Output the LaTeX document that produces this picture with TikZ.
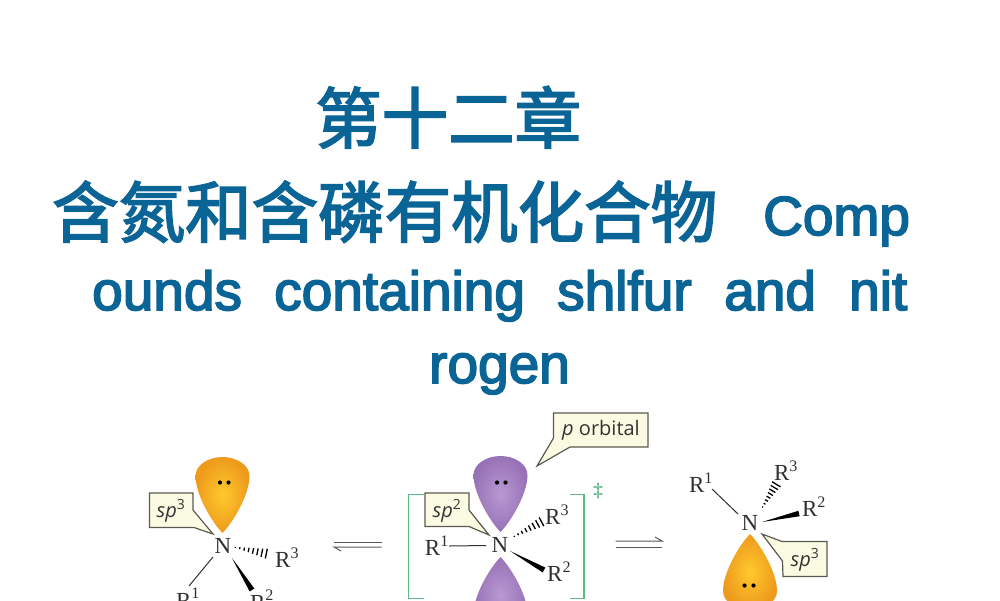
\documentclass[tikz,border=0pt]{standalone}
\usepackage{fontspec}
\usetikzlibrary{calc}
\setmainfont{Liberation Serif}
\newfontfamily\cjkfont[FakeBold=2.6]{Noto Sans CJK SC}
\newfontfamily\latinfont[FakeBold=3]{Liberation Sans}
\newfontfamily\notefont{Open Sans}
\definecolor{titleblue}{HTML}{0A6496}
\definecolor{bondgrey}{HTML}{303030}
\definecolor{notefill}{HTML}{FBFBE4}
\definecolor{noteline}{HTML}{5A5A50}
\definecolor{bracketgreen}{HTML}{5DB98A}
\definecolor{orangein}{HTML}{FFC92E}
\definecolor{orangeout}{HTML}{EE9A1C}
\definecolor{purplein}{HTML}{B899D2}
\definecolor{purpleout}{HTML}{9872B6}
\tikzset{
  x=1pt,y=-1pt,
  titlecjk/.style={inner sep=0,anchor=base west,text=titleblue,font=\cjkfont\fontsize{66.5}{67}\selectfont},
  titlelat/.style={inner sep=0,anchor=base west,text=titleblue,font=\latinfont\fontsize{55}{55}\selectfont},
  atomlabel/.style={inner sep=0,text=bondgrey,font=\fontsize{23}{23}\selectfont},
  notetext/.style={inner sep=0,text=black!80,font=\notefont\fontsize{20}{20}\selectfont},
  notebox/.style={draw=noteline,fill=notefill,line width=1.2pt,line join=miter},
  bondline/.style={draw=bondgrey,line width=1pt},
  greenline/.style={draw=bracketgreen,line width=1.4pt},
  eqline/.style={draw=black!65,line width=1pt},
  orangelobe/.style={inner color=orangein,outer color=orangeout},
  purplelobe/.style={inner color=purplein,outer color=purpleout},
}
\newcommand{\lobeshape}{(0,0) .. controls (-10,-10) and (-27,-38) .. (-27,-57) .. controls (-27,-68) and (-14,-76) .. (0,-76) .. controls (14,-76) and (27,-68) .. (27,-57) .. controls (27,-38) and (10,-10) .. (0,0) -- cycle}
\newcommand{\wedgebond}[2]{\fill[black] (#1) -- ($(#2)!2.8pt!90:(#1)$) -- ($(#2)!2.8pt!-90:(#1)$) -- cycle;}
\newcommand{\hashbond}[2]{\foreach \t/\w in {0.04/0.5,0.17/1,0.30/1.6,0.43/2.2,0.56/2.9,0.69/3.5,0.82/4.2,0.95/4.9}{
  \draw[black,line width=1.3pt] ($(#1)!\t!(#2)!\w pt!90:(#2)$) -- ($(#1)!\t!(#2)!\w pt!-90:(#2)$);}}
\begin{document}
\begin{tikzpicture}
\useasboundingbox (0,0) rectangle (1000,600);
\clip (0,0) rectangle (1000,600);
% title
\node[titlecjk] (t1) at (315,143) {第十二章};
\node[titlecjk] (t2) at (52,237) {含氮和含磷有机化合物};
\node[titlelat] (t3) at (763,235) {Comp};
\node[titlelat] (t4) at (92,310) {ounds};
\node[titlelat] (t5) at (274,310) {containing};
\node[titlelat] (t6) at (557,310) {shlfur};
\node[titlelat] (t7) at (724,310) {and};
\node[titlelat] (t8) at (849,310) {nit};
\node[titlelat] (t9) at (429,383) {rogen};
% lobes
\begin{scope}[shift={(222.5,533)}]\shade[orangelobe] \lobeshape;\end{scope}
\begin{scope}[shift={(500.5,532)}]\shade[purplelobe] \lobeshape;\end{scope}
\begin{scope}[shift={(500.5,557)},yscale=-1]\shade[purplelobe] \lobeshape;\end{scope}
\begin{scope}[shift={(750,534)},yscale=-1]\shade[orangelobe] \lobeshape;\end{scope}
\foreach \x/\y in {220/482.5,228.5/482.5,497/482.5,505.5/482.5,744.5/585.5,753.5/585.5}
  \fill[black] (\x,\y) circle (2.1);
% green brackets
\draw[greenline] (424,494.5) -- (408.5,494.5) -- (408.5,598.5) -- (424,598.5);
\draw[greenline] (570,494.5) -- (584,494.5) -- (584,598.5) -- (570,598.5);
\node[inner sep=0,text=bracketgreen,font=\bfseries\fontsize{19}{19}\selectfont] (dag) at (598,491) {‡};
% left molecule
\node[atomlabel] (Na) at (223,546) {N};
\node[atomlabel,anchor=base] (Ra1) at (188,608) {R\textsuperscript{1}};
\node[atomlabel,anchor=base] (Ra2) at (262,610) {R\textsuperscript{2}};
\node[atomlabel,anchor=west] (Ra3) at (275,558) {R\textsuperscript{3}};
\coordinate (ca1) at (213,557); \coordinate (ca2) at (189,586);
\coordinate (wa1) at (232,558); \coordinate (wa2) at (252,590);
\coordinate (ha1) at (234,547); \coordinate (ha2) at (268,554);
\draw[bondline] (ca1) -- (ca2);
\wedgebond{wa1}{wa2}
\hashbond{ha1}{ha2}
% left note
\draw[notebox] (149.5,493) -- (193,493) -- (193,510) -- (213,534) -- (194,527.5) -- (149.5,527.5) -- cycle;
\node[notetext] (na) at (171,511) {\textit{sp}\textsuperscript{3}};
% left equilibrium
\coordinate (e1a) at (334,542); \coordinate (e1b) at (381.5,542);
\coordinate (e2a) at (334,547); \coordinate (e2b) at (381.5,547);
\coordinate (e2c) at (341,551);
\draw[eqline] (e1a) -- (e1b);
\draw[eqline] (e2b) -- (e2a) -- (e2c);
% middle molecule
\node[atomlabel] (Nb) at (500,545) {N};
\node[atomlabel,anchor=east] (Rb1) at (449,546) {R\textsuperscript{1}};
\node[atomlabel,anchor=west] (Rb2) at (547,572) {R\textsuperscript{2}};
\node[atomlabel,anchor=west] (Rb3) at (545,515) {R\textsuperscript{3}};
\coordinate (cb2) at (486,545.5);
\draw[bondline] (Rb1.east) -- (cb2);
\coordinate (wb1) at (510,551); \coordinate (wb2) at (544,570);
\wedgebond{wb1}{wb2}
\coordinate (hb1) at (513,537); \coordinate (hb2) at (543,521);
\hashbond{hb1}{hb2}
% middle notes
\draw[notebox] (425,493) -- (469,493) -- (469,510) -- (489,535) -- (469,526.5) -- (425,526.5) -- cycle;
\node[notetext] (nb) at (447,511) {\textit{sp}\textsuperscript{2}};
\draw[notebox] (553.5,413) -- (648,413) -- (648,447) -- (570,447) -- (537,466) -- (553.5,438) -- cycle;
\node[notetext] (nc) at (601,430) {\textit{p} orbital};
% right equilibrium
\coordinate (e3a) at (615.5,541); \coordinate (e3b) at (662,541);
\coordinate (e3c) at (655,537);
\coordinate (e4a) at (615.5,547); \coordinate (e4b) at (662,547);
\draw[eqline] (e3a) -- (e3b) -- (e3c);
\draw[eqline] (e4a) -- (e4b);
% right molecule
\node[atomlabel] (Nc) at (750,523) {N};
\node[atomlabel] (Rc1) at (701,483) {R\textsuperscript{1}};
\node[atomlabel] (Rc2) at (814,507) {R\textsuperscript{2}};
\node[atomlabel] (Rc3) at (786,471) {R\textsuperscript{3}};
\coordinate (cc1) at (712,489); \coordinate (cc2) at (738,514);
\draw[bondline] (cc1) -- (cc2);
\coordinate (wc1) at (762,522); \coordinate (wc2) at (799,513.5);
\wedgebond{wc1}{wc2}
\coordinate (hc1) at (762,508); \coordinate (hc2) at (777,483);
\hashbond{hc1}{hc2}
\draw[notebox] (783,541.5) -- (827,541.5) -- (827,576.5) -- (783,576.5) -- (782.5,561) -- (762,534) -- (782,541.5) -- cycle;
\node[notetext] (nd) at (805,560) {\textit{sp}\textsuperscript{3}};
\end{tikzpicture}
\end{document}
